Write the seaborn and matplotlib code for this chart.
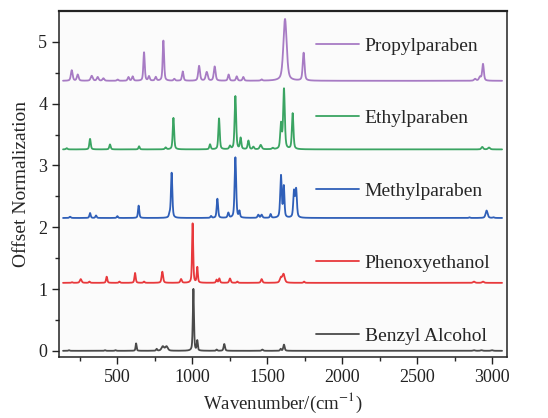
import numpy as np
import pandas as pd
import matplotlib
matplotlib.use("Agg")
import matplotlib.pyplot as plt
import seaborn as sns

names = ["Benzyl Alcohol", "Phenoxyethanol", "Methylparaben", "Ethylparaben", "Propylparaben"]
offsets = [0.0, 1.1, 2.15, 3.26, 4.37]
colors = ["#4a4a4a", "#e8393c", "#2f5fb8", "#3aa462", "#a77bc4"]

# peak positions (cm-1), heights above baseline, widths (FWHM, cm-1)
benzyl_pos = [180, 420, 490, 627, 764, 805, 830, 1009, 1035, 1164, 1215, 1469, 1591, 1613, 2880, 2930, 3000]
benzyl_h = [0.01, 0.01, 0.01, 0.12, 0.03, 0.07, 0.07, 1.0, 0.16, 0.02, 0.11, 0.02, 0.03, 0.10, 0.01, 0.01, 0.01]
benzyl_w = [10, 10, 10, 8, 9, 20, 20, 9, 8, 9, 11, 12, 9, 11, 15, 15, 15]

phenoxy_pos = [200, 258, 316, 431, 516, 620, 680, 802, 927, 1004, 1035, 1164, 1182, 1253, 1302, 1464, 1592, 1610, 1747, 2880, 2940]
phenoxy_h = [0.01, 0.06, 0.02, 0.10, 0.02, 0.16, 0.02, 0.18, 0.06, 0.96, 0.25, 0.05, 0.07, 0.07, 0.02, 0.06, 0.08, 0.14, 0.02, 0.02, 0.02]
phenoxy_w = [10, 14, 10, 10, 10, 10, 10, 12, 12, 9, 9, 10, 10, 12, 10, 12, 16, 18, 10, 15, 15]

methyl_pos = [187, 320, 360, 502, 644, 850, 864, 1127, 1169, 1242, 1289, 1316, 1442, 1464, 1524, 1593, 1612, 1680, 1694, 2850, 2964, 3010]
methyl_h = [0.02, 0.08, 0.04, 0.03, 0.2, 0.05, 0.73, 0.03, 0.31, 0.08, 0.98, 0.1, 0.05, 0.05, 0.06, 0.68, 0.5, 0.42, 0.45, 0.01, 0.12, 0.01]
methyl_w = [12, 10, 10, 10, 10, 10, 11, 10, 11, 11, 12, 9, 12, 12, 10, 12, 10, 12, 12, 10, 16, 12]

ethyl_pos = [164, 320, 453, 647, 824, 876, 1120, 1180, 1253, 1289, 1324, 1376, 1409, 1458, 1538, 1593, 1613, 1671, 2935, 2980]
ethyl_h = [0.02, 0.17, 0.08, 0.05, 0.03, 0.51, 0.08, 0.5, 0.05, 0.86, 0.18, 0.14, 0.04, 0.07, 0.02, 0.4, 0.97, 0.58, 0.04, 0.03]
ethyl_w = [12, 11, 11, 10, 12, 11, 11, 11, 12, 12, 11, 12, 12, 16, 12, 12, 13, 12, 14, 16]

propyl_pos = [198, 238, 331, 371, 409, 504, 576, 604, 680, 713, 758, 809, 882, 938, 1047, 1098, 1151, 1244, 1298, 1342, 1464, 1620, 1744, 2887, 2920, 2940]
propyl_h = [0.17, 0.1, 0.08, 0.06, 0.04, 0.02, 0.06, 0.07, 0.46, 0.07, 0.06, 0.65, 0.03, 0.15, 0.24, 0.14, 0.23, 0.1, 0.07, 0.06, 0.02, 1.0, 0.45, 0.03, 0.06, 0.27]
propyl_w = [14, 14, 16, 14, 14, 12, 12, 12, 11, 12, 12, 11, 12, 12, 14, 16, 14, 12, 12, 12, 12, 26, 14, 16, 16, 13]

peak_sets = [
    (benzyl_pos, benzyl_h, benzyl_w),
    (phenoxy_pos, phenoxy_h, phenoxy_w),
    (methyl_pos, methyl_h, methyl_w),
    (ethyl_pos, ethyl_h, ethyl_w),
    (propyl_pos, propyl_h, propyl_w),
]

wn = np.arange(140, 3068, 1.0)

frames = []
for name, off, (pos, h, w) in zip(names, offsets, peak_sets):
    y = np.zeros_like(wn)
    for p, a, fw in zip(pos, h, w):
        # pseudo-Voigt style peak
        g = (fw / 2) ** 2
        lor = g / ((wn - p) ** 2 + g)
        gau = np.exp(-4 * np.log(2) * (wn - p) ** 2 / fw ** 2)
        y += a * (0.5 * lor + 0.5 * gau)
    frames.append(pd.DataFrame({"Wavenumber": wn, "Intensity": y + off, "Sample": name}))
df = pd.concat(frames, ignore_index=True)

sns.set_theme(style="ticks")
plt.rcParams["font.family"] = ["Liberation Serif", "DejaVu Serif"]
plt.rcParams["mathtext.fontset"] = "stix"

fig = plt.figure(figsize=(5.48, 4.18), dpi=100)
fig.patch.set_facecolor("white")
ax = fig.add_axes([59 / 548, 1 - 357 / 418, (507 - 59) / 548, (357 - 11) / 418])
ax.set_facecolor("#fbfbfb")

sns.lineplot(data=df, x="Wavenumber", y="Intensity", hue="Sample",
             hue_order=names, palette=colors, linewidth=1.3, ax=ax,
             estimator=None, sort=False)

ax.set_xlim(113, 3100)
ax.set_ylim(-0.1, 5.5)
ax.set_xticks([500, 1000, 1500, 2000, 2500, 3000])
ax.set_xticks(np.arange(250, 3100, 250), minor=True)
ax.set_yticks([0, 1, 2, 3, 4, 5])
ax.set_yticks(np.arange(0.5, 5.5, 1.0), minor=True)
ax.tick_params(axis="both", which="major", direction="out", length=5, width=1,
               labelsize=13, colors="#222222")
ax.tick_params(axis="both", which="minor", direction="out", length=3, width=1)
for s in ax.spines.values():
    s.set_linewidth(1.1)
    s.set_color("#222222")
ax.spines["top"].set_linewidth(1.6)

ax.set_xlabel("Wavenumber/(cm$^{-1}$)", fontsize=13.5, labelpad=4)
ax.set_ylabel("Offset Normalization", fontsize=14, labelpad=6)

handles, labels = ax.get_legend_handles_labels()
leg = ax.legend(handles[::-1], labels[::-1], loc="upper left",
                bbox_to_anchor=(0.535, 0.975), frameon=False, fontsize=14,
                labelspacing=2.82, handlelength=2.2, handletextpad=0.3)

fig.savefig("out.png", dpi=100)
